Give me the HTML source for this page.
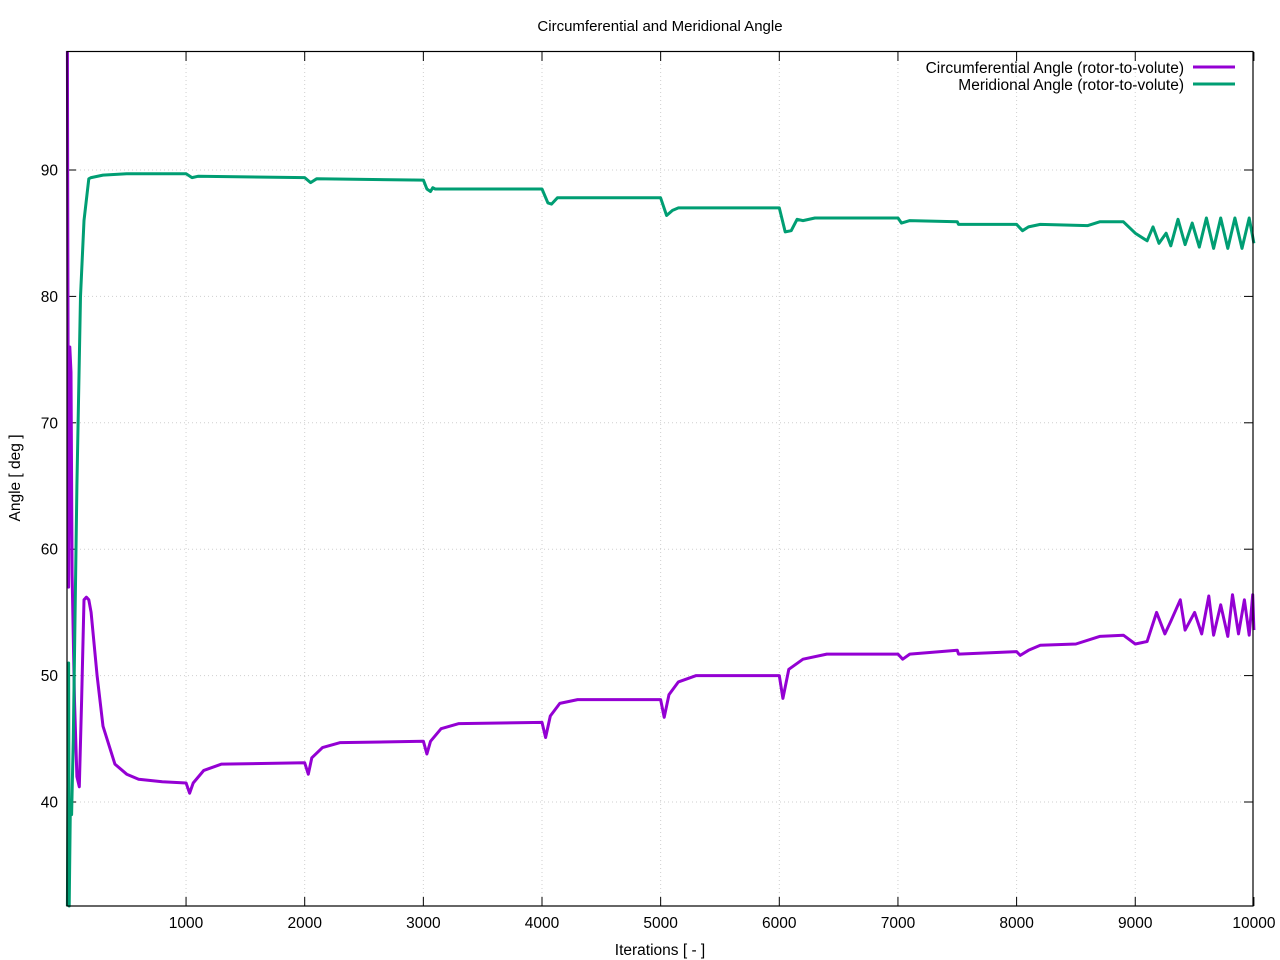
<!DOCTYPE html>
<html><head><meta charset="utf-8"><style>
html,body{margin:0;padding:0;background:#fff;}
svg{display:block;font-family:"Liberation Sans",sans-serif;}
</style></head><body>
<svg id="s" width="1280" height="960" xmlns="http://www.w3.org/2000/svg">
<rect x="0" y="0" width="1280" height="960" fill="#fff"/>
<g id="grid" stroke="#cfcfcf" stroke-width="1" stroke-dasharray="1,3"></g>
<g id="ticks" stroke="#000" stroke-width="1"></g>
<g id="labels" font-size="15.5" fill="#000"></g>
<g id="series" fill="none" stroke-width="3" stroke-linejoin="round"></g>
<rect x="67" y="51.5" width="1186" height="854.5" fill="none" stroke="#000" stroke-width="1.2"/>
<text x="660" y="31" font-size="15" text-anchor="middle">Circumferential and Meridional Angle</text>
<text x="660" y="955" font-size="15.5" text-anchor="middle">Iterations [ - ]</text>
<text x="20" y="478" font-size="15.5" text-anchor="middle" transform="rotate(-90 20 478)">Angle [ deg ]</text>
<text x="1184" y="73" font-size="15.5" text-anchor="end">Circumferential Angle (rotor-to-volute)</text>
<line x1="1193" y1="67" x2="1235" y2="67" stroke="#9400d3" stroke-width="3"/>
<text x="1184" y="90" font-size="15.5" text-anchor="end">Meridional Angle (rotor-to-volute)</text>
<line x1="1193" y1="84" x2="1235" y2="84" stroke="#009e73" stroke-width="3"/>
</svg>
<script>
var NS="http://www.w3.org/2000/svg";
function px(x){return 67.4+x*0.11865;}
function py(v){return 170+(90-v)*12.64;}
function el(p,t,a,txt){var e=document.createElementNS(NS,t);for(var k in a)e.setAttribute(k,a[k]);if(txt)e.textContent=txt;document.getElementById(p).appendChild(e);}
for(var i=1;i<=10;i++){var x=px(i*1000);
 if(i<10)el("grid","line",{x1:x,y1:52,x2:x,y2:906});
 el("ticks","line",{x1:x,y1:906,x2:x,y2:897});el("ticks","line",{x1:x,y1:52,x2:x,y2:61});
 el("labels","text",{x:x,y:928,"text-anchor":"middle"},String(i*1000));}
for(var v=40;v<=90;v+=10){var y=py(v);
 el("grid","line",{x1:68,y1:y,x2:1253,y2:y});
 el("ticks","line",{x1:67,y1:y,x2:76,y2:y});el("ticks","line",{x1:1253,y1:y,x2:1244,y2:y});
 el("labels","text",{x:58,y:y+5.5,"text-anchor":"end"},String(v));}
var G=[[0,29],[10,51],[15,29],[25,40],[35,39],[50,45],[80,65],[110,80],[140,86],[180,89.3],[200,89.4],[300,89.6],[500,89.7],[1000,89.7],[1050,89.4],[1100,89.5],[2000,89.4],[2050,89.0],[2100,89.3],[3000,89.2],[3030,88.5],[3060,88.3],[3080,88.6],[3100,88.5],[4000,88.5],[4050,87.4],[4080,87.3],[4130,87.8],[4200,87.8],[5000,87.8],[5050,86.4],[5100,86.8],[5150,87.0],[5500,87.0],[5900,87.0],[6000,87.0],[6050,85.1],[6100,85.2],[6150,86.1],[6200,86.0],[6300,86.2],[7000,86.2],[7030,85.8],[7100,86.0],[7500,85.9],[7510,85.7],[8000,85.7],[8050,85.2],[8100,85.5],[8200,85.7],[8600,85.6],[8700,85.9],[8900,85.9],[9000,85.0],[9100,84.4],[9150,85.5],[9200,84.2],[9260,85.0],[9300,84.0],[9360,86.1],[9420,84.1],[9480,85.8],[9540,83.9],[9600,86.2],[9660,83.8],[9720,86.2],[9780,83.8],[9840,86.2],[9900,83.8],[9960,86.2],[10000,84.2]];
var P=[[0,100],[10,57],[20,76],[30,74],[40,58],[60,48],[80,42],[100,41.2],[120,48],[140,56],[160,56.2],[180,56],[200,55],[250,50],[300,46],[400,43],[500,42.2],[600,41.8],[800,41.6],[1000,41.5],[1030,40.7],[1060,41.5],[1150,42.5],[1300,43],[2000,43.1],[2030,42.2],[2060,43.5],[2150,44.3],[2300,44.7],[3000,44.8],[3030,43.8],[3060,44.8],[3150,45.8],[3300,46.2],[4000,46.3],[4030,45.1],[4070,46.8],[4150,47.8],[4300,48.1],[5000,48.1],[5030,46.7],[5070,48.5],[5150,49.5],[5300,50],[6000,50],[6030,48.2],[6080,50.5],[6200,51.3],[6400,51.7],[7000,51.7],[7040,51.3],[7100,51.7],[7500,52.0],[7510,51.7],[8000,51.9],[8030,51.6],[8100,52],[8200,52.4],[8500,52.5],[8700,53.1],[8900,53.2],[9000,52.5],[9100,52.7],[9180,55],[9250,53.3],[9300,54.3],[9380,56],[9420,53.6],[9500,55],[9560,53.3],[9620,56.3],[9660,53.2],[9720,55.6],[9780,53.1],[9820,56.4],[9870,53.3],[9920,56],[9960,53.2],[9990,56.4],[10000,53.6]];
function pts(a){return a.map(function(p){var y=Math.max(51,Math.min(906,py(p[1])));return px(p[0]).toFixed(1)+","+y.toFixed(1);}).join(" ");}
el("series","polyline",{points:pts(P),stroke:"#9400d3"});
el("series","polyline",{points:pts(G),stroke:"#009e73"});
</script>
</body></html>
